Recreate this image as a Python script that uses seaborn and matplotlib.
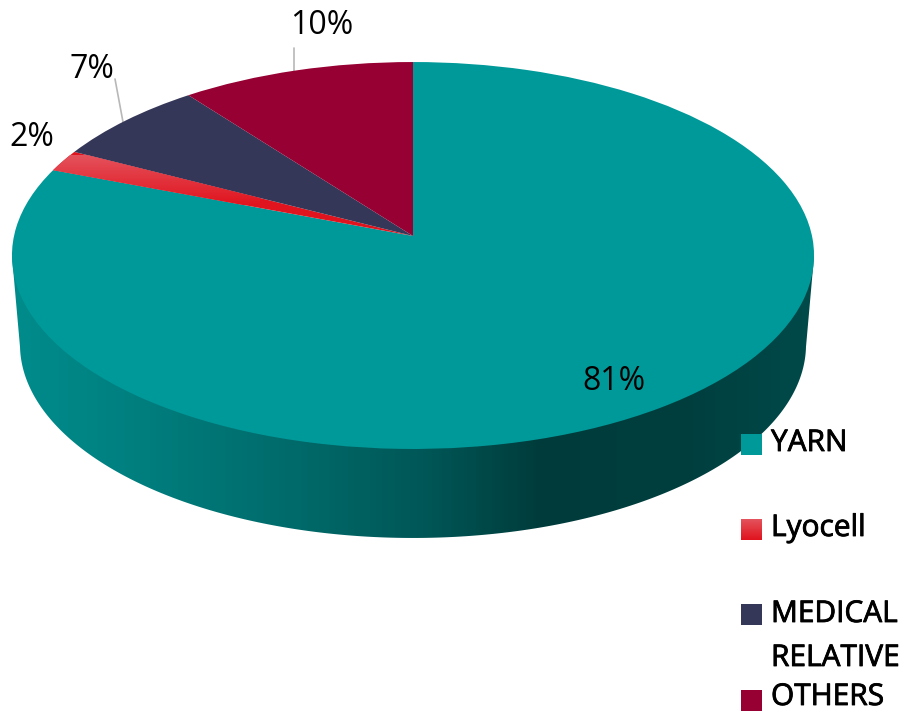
import numpy as np
import seaborn as sns
import matplotlib
matplotlib.use('Agg')
import matplotlib.pyplot as plt
import matplotlib.patheffects as pe
from matplotlib.colors import LinearSegmentedColormap
from matplotlib.patches import Polygon, Rectangle
from matplotlib.transforms import Transform

categories = ['YARN', 'Lyocell', 'MEDICAL', 'OTHERS']
values = [80.8, 1.8, 7.0, 10.4]  # slice sizes, round to the printed labels
pct_labels = ['81%', '2%', '7%', '10%']
legend_labels = ['YARN', 'Lyocell', 'MEDICAL\nRELATIVE', 'OTHERS']
colors = ['#009999', '#e0141e', '#353758', '#960032']

sns.set_theme(style='white')
plt.rcParams['font.family'] = ['Open Sans', 'DejaVu Sans']

W, H = 908, 712
cx, cy = 413, 236     # apex of the pie
a, b, k = 399, 191.5, 0.1008  # tilt of the disc
depth = 89
band_cx = 413


class Tilt(Transform):
    # unit circle of the pie -> tilted disc in pixel coords
    input_dims = 2
    output_dims = 2

    def transform_non_affine(self, pts):
        pts = np.asarray(pts)
        d = 1 + k * pts[:, 1]
        return np.column_stack([cx + a * pts[:, 0] / d, cy - b * pts[:, 1] / d])


fig = plt.figure(figsize=(W / 100, H / 100), dpi=100)
ax = fig.add_axes([0, 0, 1, 1])

wedges, _ = ax.pie(values, colors=sns.color_palette(colors), startangle=90,
                   counterclock=False, radius=1, center=(0, 0), frame=True)
ax.set_aspect('auto')
tilt = Tilt()
for w in wedges:
    w.set_transform(tilt + ax.transData)
    w.set_zorder(3)
    w.set_linewidth(0)

# side of the disc
t = np.linspace(0, 2 * np.pi, 721)
rim = tilt.transform_non_affine(np.column_stack([np.cos(t), np.sin(t)]))
left = rim[rim[:, 0].argmin()]
right = rim[rim[:, 0].argmax()]
low = rim[rim[:, 1] > left[1]].copy()
low = low[low[:, 0].argsort()]
low[:, 0] = band_cx + (low[:, 0] - band_cx) * 0.98
low[:, 1] += depth
band = Polygon(np.vstack([left, low, right]), closed=True, transform=ax.transData,
               facecolor='none', edgecolor='none')
ax.add_patch(band)
side_cmap = LinearSegmentedColormap.from_list('side', [
    (0.0, '#008c8c'), (0.15, '#007f7f'), (0.35, '#006a6a'), (0.52, '#005656'),
    (0.66, '#003b3b'), (0.85, '#003f3f'), (1.0, '#004a4a')])
im = ax.imshow(np.linspace(0, 1, 256)[None, :], cmap=side_cmap, aspect='auto',
               extent=[12, 815, 540, 250], zorder=2)
im.set_clip_path(band)

# light top on the red slice
red_cmap = LinearSegmentedColormap.from_list('red', ['#e4525c', '#e0141e'])
im2 = ax.imshow(np.linspace(0, 1, 64)[:, None], cmap=red_cmap, aspect='auto',
                extent=[40, 260, 205, 155], zorder=4)
im2.set_clip_path(wedges[1])

# leader lines
ax.plot([294, 294], [71, 48], color='#b8b8b8', lw=1.2, zorder=1)
ax.plot([123, 115], [122, 79], color='#b8b8b8', lw=1.2, zorder=1)

# percent labels
pct_pos = [(614, 381), (32, 138), (92, 70), (322, 25)]
for s, (x, y) in zip(pct_labels, pct_pos):
    ax.text(x, y, s, fontsize=23, color='black', ha='center', va='center', zorder=6)

# legend
swatch_y = [434, 519, 604, 690]
text_y = [451, 536, 622, 705]
for c, lab, sy, ty in zip(colors, legend_labels, swatch_y, text_y):
    ax.add_patch(Rectangle((741, sy), 21, 21, facecolor=c, edgecolor='none', zorder=5))
    for i, line in enumerate(lab.split('\n')):
        txt = ax.text(771, ty + i * 44, line, fontsize=21.5, color='black',
                      ha='left', va='baseline', zorder=6)
        txt.set_path_effects([pe.withStroke(linewidth=0.6, foreground='black')])
im3 = ax.imshow(np.linspace(0, 1, 21)[:, None], cmap=red_cmap, aspect='auto',
                extent=[741, 762, 540, 519], zorder=5.5)

ax.set_xlim(0, W)
ax.set_ylim(H, 0)
ax.axis('off')

fig.savefig('out.png', dpi=100, facecolor='white')
